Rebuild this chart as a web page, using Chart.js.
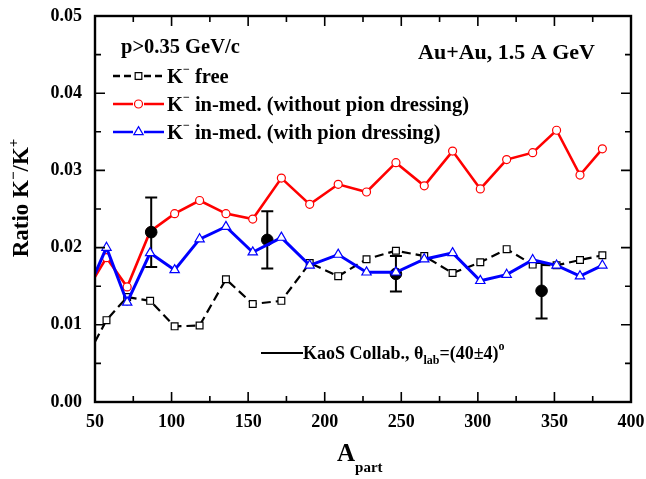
<!DOCTYPE html>
<html>
<head>
<meta charset="utf-8">
<script src="https://cdn.jsdelivr.net/npm/chart.js@4.4.1/dist/chart.umd.min.js"></script>
<style>
  html, body { margin: 0; padding: 0; background: #fff; }
  #wrap { width: 646px; height: 479px; }
</style>
</head>
<body>
<div id="wrap"><canvas id="ratioChart"></canvas></div>
<script>
// A_part of the model points (first entry = where the curves enter at the left axis)
const apart = [50, 57.5, 71, 86, 102, 118.3, 135.5, 153, 171.7, 190.2, 208.8, 227.3, 246.5, 265, 283.5, 301.6, 318.8, 335.8, 351.4, 366.7, 381.3];
const kFree = [0.0078, 0.0106, 0.0136, 0.0131, 0.0098, 0.0099, 0.0159, 0.0127, 0.0131, 0.0180, 0.0163, 0.0185, 0.0196, 0.0189, 0.0167, 0.0181, 0.0198, 0.0178, 0.0177, 0.0184, 0.0190];
const kNoPion = [0.0162, 0.0187, 0.0149, 0.0221, 0.0244, 0.0261, 0.0244, 0.0237, 0.0290, 0.0256, 0.0282, 0.0272, 0.0310, 0.0280, 0.0325, 0.0276, 0.0314, 0.0323, 0.0352, 0.0294, 0.0328];
const kPion = [0.0166, 0.0200, 0.0129, 0.0193, 0.0171, 0.0211, 0.0227, 0.0194, 0.0213, 0.0177, 0.0191, 0.0168, 0.0168, 0.0185, 0.0193, 0.0157, 0.0165, 0.0184, 0.0177, 0.0163, 0.0177];

// KaoS data
const kaosA = [86.7, 162.5, 246.5, 341.6];
const kaosRatio = [0.0220, 0.0210, 0.0166, 0.0144];
const kaosErr = [0.0045, 0.0037, 0.0023, 0.0036];

const xTicks = [50, 100, 150, 200, 250, 300, 350, 400];
const yTicks = [0, 0.01, 0.02, 0.03, 0.04, 0.05];

const SERIF = "'Liberation Serif', 'Times New Roman', serif";
const bold = (size) => 'bold ' + size + 'px ' + SERIF;

const pts = (xs, ys) => xs.map((x, i) => ({ x: x, y: ys[i] }));
const hideFirst = (r) => (c) => c.dataIndex === 0 ? 0 : r;

// text made of pieces: [text, size, dy]
function drawRich(ctx, x, y, parts, align) {
  let w = 0;
  parts.forEach(p => { ctx.font = bold(p[1]); w += ctx.measureText(p[0]).width; });
  let cx = align === 'right' ? x - w : align === 'center' ? x - w / 2 : x;
  parts.forEach(p => {
    ctx.font = bold(p[1]);
    ctx.fillText(p[0], cx, y + (p[2] || 0));
    cx += ctx.measureText(p[0]).width;
  });
}

function marker(ctx, style, r, x, y, color) {
  ctx.save();
  ctx.fillStyle = '#fff';
  ctx.strokeStyle = color;
  ctx.lineWidth = 1.2;
  Chart.helpers.drawPoint(ctx, { pointStyle: style, radius: r, borderWidth: 1.2 }, x, y);
  ctx.restore();
}

const framePlugin = {
  id: 'frame',
  afterDatasetsDraw(chart) {
    const { ctx, chartArea: a, scales } = chart;
    const x = scales.x, y = scales.y;
    ctx.save();
    ctx.strokeStyle = '#000';
    ctx.lineWidth = 1.6;
    ctx.beginPath();
    const xm = [];
    xTicks.forEach((v, i) => { xm.push([v, 10]); if (i < xTicks.length - 1) xm.push([(v + xTicks[i + 1]) / 2, 6]); });
    xm.forEach(([v, len]) => {
      const px = x.getPixelForValue(v);
      ctx.moveTo(px, a.bottom); ctx.lineTo(px, a.bottom - len);
      ctx.moveTo(px, a.top); ctx.lineTo(px, a.top + len);
    });
    const ym = [];
    yTicks.forEach((v, i) => { ym.push([v, 10]); if (i < yTicks.length - 1) ym.push([(v + yTicks[i + 1]) / 2, 6]); });
    ym.forEach(([v, len]) => {
      const py = y.getPixelForValue(v);
      ctx.moveTo(a.left, py); ctx.lineTo(a.left + len, py);
      ctx.moveTo(a.right, py); ctx.lineTo(a.right - len, py);
    });
    ctx.stroke();
    ctx.lineWidth = 2.4;
    ctx.strokeRect(a.left, a.top, a.right - a.left, a.bottom - a.top);
    ctx.restore();
  }
};

const errorBars = {
  id: 'errorBars',
  afterDatasetDraw(chart, args) {
    if (chart.data.datasets[args.index].label !== 'KaoS') return;
    const { ctx, scales: { x, y } } = chart;
    ctx.save();
    ctx.strokeStyle = '#000';
    ctx.lineWidth = 2;
    ctx.beginPath();
    kaosA.forEach((a, i) => {
      const px = x.getPixelForValue(a);
      const top = y.getPixelForValue(kaosRatio[i] + kaosErr[i]);
      const bot = y.getPixelForValue(kaosRatio[i] - kaosErr[i]);
      ctx.moveTo(px, top); ctx.lineTo(px, bot);
      ctx.moveTo(px - 6, top); ctx.lineTo(px + 6, top);
      ctx.moveTo(px - 6, bot); ctx.lineTo(px + 6, bot);
    });
    ctx.stroke();
    ctx.restore();
  }
};

const labelsPlugin = {
  id: 'labels',
  afterDraw(chart) {
    const ctx = chart.ctx;
    ctx.save();
    ctx.fillStyle = '#000';
    ctx.textBaseline = 'alphabetic';

    drawRich(ctx, 121, 53, [['p>0.35 GeV/c', 20.5]]);
    drawRich(ctx, 595, 59, [['Au+Au, 1.5 A GeV', 22]], 'right');

    // legend rows
    const rows = [
      { y: 76, color: '#000', dash: [7, 4], style: 'rect', r: 4.7, text: ' free' },
      { y: 104, color: '#ff0000', dash: [], style: 'circle', r: 4, text: ' in-med. (without pion dressing)' },
      { y: 132, color: '#0000ff', dash: [], style: 'triangle', r: 5.4, text: ' in-med. (with pion dressing)' }
    ];
    rows.forEach(rw => {
      ctx.save();
      ctx.strokeStyle = rw.color;
      ctx.lineWidth = 2.5;
      ctx.setLineDash(rw.dash);
      ctx.beginPath();
      ctx.moveTo(113, rw.y); ctx.lineTo(133, rw.y);
      ctx.moveTo(144, rw.y); ctx.lineTo(164, rw.y);
      ctx.stroke();
      ctx.restore();
      marker(ctx, rw.style, rw.r, 138.5, rw.y, rw.color);
      drawRich(ctx, 167, rw.y + 7, [['K', 20.5], ['\u2212', 12, -10], [rw.text, 20.5]]);
    });

    // KaoS legend
    ctx.save();
    ctx.strokeStyle = '#000';
    ctx.lineWidth = 1.8;
    ctx.beginPath();
    ctx.moveTo(261, 353); ctx.lineTo(303, 353);
    ctx.stroke();
    ctx.restore();
    drawRich(ctx, 303, 359, [['KaoS Collab., ', 18], ['\u03b8', 18], ['lab', 12, 5], ['=(40\u00b14)', 18], ['o', 12, -9]]);

    // axis titles
    drawRich(ctx, 337, 461, [['A', 25], ['part', 15, 11]]);
    ctx.translate(28, 198);
    ctx.rotate(-Math.PI / 2);
    drawRich(ctx, 0, 0, [['Ratio K', 23], ['\u2212', 15, -10], ['/K', 23], ['+', 15, -10]], 'center');
    ctx.restore();
  }
};

new Chart(document.getElementById('ratioChart'), {
  type: 'scatter',
  data: {
    datasets: [
      {
        label: 'with pion dressing',
        data: pts(apart, kPion),
        showLine: true,
        borderColor: '#0000ff',
        borderWidth: 3,
        pointStyle: 'triangle',
        pointRadius: hideFirst(5.4),
        pointBorderWidth: 1.2,
        pointBackgroundColor: '#fff',
        pointBorderColor: '#0000ff'
      },
      {
        label: 'free',
        data: pts(apart, kFree),
        showLine: true,
        borderColor: '#000',
        borderWidth: 2.2,
        borderDash: [9, 5],
        pointStyle: 'rect',
        pointRadius: hideFirst(4.8),
        pointBorderWidth: 1.2,
        pointBackgroundColor: '#fff',
        pointBorderColor: '#000'
      },
      {
        label: 'KaoS',
        data: pts(kaosA, kaosRatio),
        pointStyle: 'circle',
        pointRadius: 5.8,
        pointBackgroundColor: '#000',
        pointBorderColor: '#000'
      },
      {
        label: 'without pion dressing',
        data: pts(apart, kNoPion),
        showLine: true,
        borderColor: '#ff0000',
        borderWidth: 2.6,
        pointStyle: 'circle',
        pointRadius: hideFirst(4),
        pointBorderWidth: 1.2,
        pointBackgroundColor: '#fff',
        pointBorderColor: '#ff0000'
      }
    ]
  },
  options: {
    responsive: true,
    maintainAspectRatio: false,
    animation: false,
    layout: { padding: { top: 16, right: 15, left: 0, bottom: 0 } },
    plugins: { legend: { display: false }, tooltip: { enabled: false } },
    scales: {
      x: {
        type: 'linear',
        min: 50, max: 400,
        afterBuildTicks: (s) => { s.ticks = xTicks.map(v => ({ value: v })); },
        afterFit: (s) => { s.height = 77; s.paddingLeft = 0; s.paddingRight = 0; },
        grid: { drawOnChartArea: false, drawTicks: false },
        border: { display: false },
        ticks: { color: '#000', font: { family: SERIF, size: 18, weight: 'bold' }, padding: 10, maxRotation: 0 }
      },
      y: {
        type: 'linear',
        min: 0, max: 0.05,
        afterBuildTicks: (s) => { s.ticks = yTicks.map(v => ({ value: v })); },
        afterFit: (s) => { s.width = 95; s.paddingTop = 0; s.paddingBottom = 0; },
        grid: { drawOnChartArea: false, drawTicks: false },
        border: { display: false },
        ticks: { color: '#000', font: { family: SERIF, size: 18, weight: 'bold' }, padding: 13, callback: (v) => v.toFixed(2) }
      }
    }
  },
  plugins: [errorBars, framePlugin, labelsPlugin]
});
</script>
</body>
</html>
